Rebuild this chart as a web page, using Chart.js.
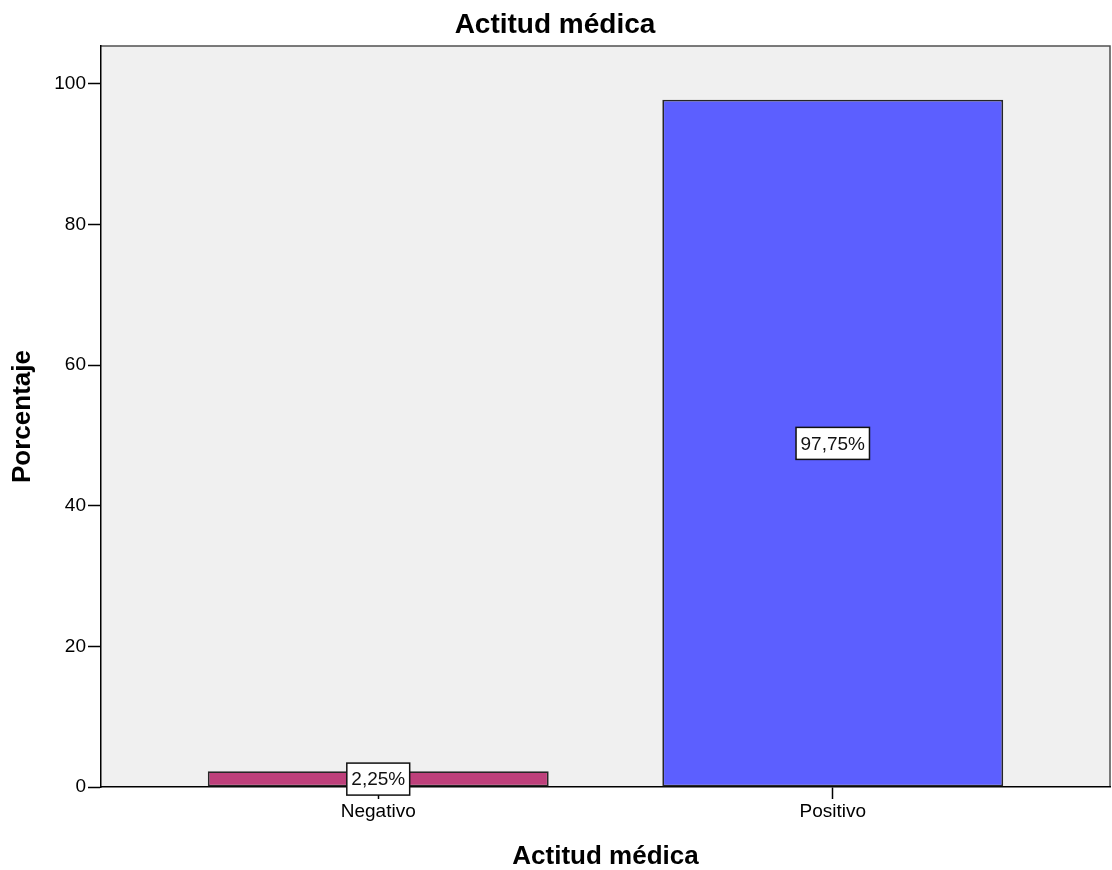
<!DOCTYPE html>
<html><head><meta charset="utf-8">
<script src="https://cdn.jsdelivr.net/npm/chart.js@4/dist/chart.umd.min.js"></script>
<style>html,body{margin:0;padding:0;background:#fff;}#wrap{width:1112px;height:870px;}</style>
</head><body><div id="wrap"><canvas id="c" width="1112" height="870"></canvas></div>
<script>
const categories = ['Negativo', 'Positivo'];
const percentages = [2.25, 97.75];
const valueLabels = ['2,25%', '97,75%'];
const yTicks = [0, 20, 40, 60, 80, 100];
const barColors = ['#BE407B', '#5C5FFF'];
const chartTitle = 'Actitud médica';
const xTitle = 'Actitud médica';
const yTitle = 'Porcentaje';

const FONT = '"Liberation Sans", Arial, sans-serif';

const plotFrame = {
  id: 'plotFrame',
  beforeDraw(chart) {
    const {ctx, chartArea: a} = chart;
    ctx.save();
    ctx.fillStyle = '#F0F0F0';
    ctx.fillRect(a.left, a.top, a.right - a.left, a.bottom - a.top);
    ctx.strokeStyle = '#505050';
    ctx.lineWidth = 1.5;
    ctx.beginPath();
    ctx.moveTo(a.left, a.top);
    ctx.lineTo(a.right, a.top);
    ctx.lineTo(a.right, a.bottom);
    ctx.stroke();
    ctx.restore();
  },
  afterDatasetsDraw(chart) {
    const {ctx} = chart;
    const meta = chart.getDatasetMeta(0);
    const ys = chart.scales.y;
    ctx.save();
    ctx.font = '19px ' + FONT;
    ctx.textAlign = 'center';
    ctx.textBaseline = 'middle';
    meta.data.forEach((el, i) => {
      const cx = el.x;
      const cy = ys.getPixelForValue(percentages[i] / 2);
      const w = ctx.measureText(valueLabels[i]).width + 9;
      const h = 32;
      ctx.fillStyle = '#fff';
      ctx.fillRect(cx - w / 2, cy - h / 2, w, h);
      ctx.strokeStyle = '#111';
      ctx.lineWidth = 1.5;
      ctx.strokeRect(cx - w / 2, cy - h / 2, w, h);
      ctx.fillStyle = '#111';
      ctx.fillText(valueLabels[i], cx, cy + 1);
    });
    ctx.restore();
  }
};

new Chart(document.getElementById('c'), {
  type: 'bar',
  data: {
    datasets: [{
      data: percentages.map((v, i) => ({x: i, y: v})),
      backgroundColor: barColors,
      borderColor: '#262626',
      borderWidth: 1.8,
      borderSkipped: false,
      barPercentage: 0.75,
      categoryPercentage: 1
    }]
  },
  options: {
    responsive: false,
    devicePixelRatio: 1,
    animation: false,
    layout: {padding: {top: 0, right: 2, bottom: 0, left: 0}},
    plugins: {
      legend: {display: false},
      tooltip: {enabled: false},
      title: {
        display: true,
        text: chartTitle,
        color: '#000',
        font: {family: FONT, size: 28, weight: 'bold', lineHeight: 1.2},
        padding: {top: 8, bottom: 4.4}
      }
    },
    scales: {
      x: {
        type: 'linear',
        min: -0.61,
        max: 1.61,
        offset: false,
        afterBuildTicks: s => { s.ticks = categories.map((c, i) => ({value: i})); },
        afterFit: s => { s.height = 83; },
        ticks: {
          callback: v => categories[v],
          color: '#000',
          font: {family: FONT, size: 19},
          padding: 1,
          autoSkip: false,
          maxRotation: 0
        },
        grid: {display: true, offset: false, drawOnChartArea: false, drawTicks: true, tickLength: 12, tickColor: '#000', tickWidth: 1.5, color: '#000'},
        border: {display: true, color: '#000', width: 1.5},
        title: {display: true, text: xTitle, color: '#000', font: {family: FONT, size: 26, weight: 'bold', lineHeight: 1}, padding: {top: 0, bottom: 0}}
      },
      y: {
        min: 0,
        max: 105.4,
        afterBuildTicks: s => { s.ticks = yTicks.map(v => ({value: v})); },
        afterFit: s => { s.width = 101; },
        ticks: {color: '#000', font: {family: FONT, size: 19}, padding: 2},
        grid: {display: true, drawOnChartArea: false, drawTicks: true, tickLength: 13, tickColor: '#000', tickWidth: 1.5, color: '#000'},
        border: {display: true, color: '#000', width: 1.5},
        title: {display: true, text: yTitle, color: '#000', font: {family: FONT, size: 26, weight: 'bold', lineHeight: 1}, padding: {top: 10, bottom: 0}}
      }
    }
  },
  plugins: [plotFrame]
});
</script>
</body></html>
